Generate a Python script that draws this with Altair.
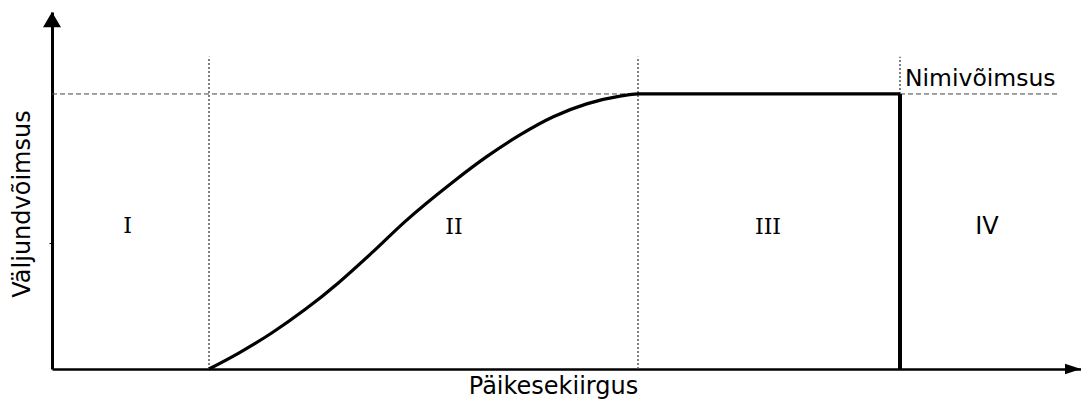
import altair as alt
import pandas as pd

# ---- data ----
curve_x = [157, 186.3, 219.7, 253, 286.3, 319.7, 353, 401.3, 434.7, 468, 501.3, 534.7, 568, 586, 848]
curve_y = [0, 0.057, 0.131, 0.216, 0.313, 0.422, 0.536, 0.681, 0.772, 0.851, 0.917, 0.964, 0.992, 1.0, 1.0]

region_labels = ["I", "II", "III", "IV"]
region_x = [75.5, 402, 716, 935]
region_y = [0.52, 0.515, 0.515, 0.515]

boundary_x = [157, 586]
boundary_top = 1.135
cutout_x = 848
rated = 1.0
rated_end = 1005
rated_label = "Nimivõimsus"
rated_label_x = 853
rated_label_y = 1.029
y_tick = [0.458]

x_max = 1029
y_max = 1.298

xs = alt.Scale(domain=[0, x_max], nice=False, zero=False)
ys = alt.Scale(domain=[0, y_max], nice=False, zero=False)

x_axis = alt.Axis(title="Päikesekiirgus", domainWidth=2.5, domainColor="black",
                  ticks=False, labels=False, grid=False,
                  titleFont="DejaVu Sans", titleFontSize=24, titleFontWeight="normal",
                  titleColor="black", titleX=501, titleY=24,
                  titleBaseline="alphabetic", titleAlign="center")
y_axis = alt.Axis(title="Väljundvõimsus", values=y_tick, domainWidth=3, domainColor="black",
                  tickSize=3, tickColor="black", tickWidth=1, labels=False, grid=False,
                  titleFont="DejaVu Sans", titleFontSize=24, titleFontWeight="normal",
                  titleColor="black", titleX=-30, titleY=191.5, titleAngle=270,
                  titleBaseline="middle", titleAlign="center")

# dotted boundaries
dot_df = pd.DataFrame({
    "x": boundary_x + [cutout_x],
    "y": [0, 0, rated],
    "y2": [boundary_top] * 3,
})
dotted = alt.Chart(dot_df).mark_rule(color="#555555", strokeWidth=1.5, strokeDash=[2, 2]).encode(
    x=alt.X("x:Q", scale=xs, axis=x_axis),
    y=alt.Y("y:Q", scale=ys, axis=y_axis),
    y2="y2:Q",
)

cut_df = pd.DataFrame({"x": [cutout_x], "y": [0], "y2": [rated]})
cutout = alt.Chart(cut_df).mark_rule(color="black", strokeWidth=4).encode(
    x=alt.X("x:Q", scale=xs), y=alt.Y("y:Q", scale=ys), y2="y2:Q"
)

rated_df = pd.DataFrame({"x": [0], "x2": [rated_end], "y": [rated]})
rated_line = alt.Chart(rated_df).mark_rule(color="#444444", strokeWidth=1, strokeDash=[5, 3]).encode(
    x=alt.X("x:Q", scale=xs), x2="x2:Q", y=alt.Y("y:Q", scale=ys)
)

curve_df = pd.DataFrame({"x": curve_x, "y": curve_y})
curve = alt.Chart(curve_df).mark_line(color="black", strokeWidth=3.2, interpolate="monotone").encode(
    x=alt.X("x:Q", scale=xs), y=alt.Y("y:Q", scale=ys)
)

reg_df = pd.DataFrame({"label": region_labels, "x": region_x, "y": region_y})
reg_serif = alt.Chart(reg_df.iloc[:3]).mark_text(font="DejaVu Serif", fontSize=22, color="black",
                                                 baseline="middle", align="center").encode(
    x=alt.X("x:Q", scale=xs), y=alt.Y("y:Q", scale=ys), text="label:N"
)
reg_sans = alt.Chart(reg_df.iloc[3:]).mark_text(font="DejaVu Sans", fontSize=24, color="black",
                                                baseline="middle", align="center").encode(
    x=alt.X("x:Q", scale=xs), y=alt.Y("y:Q", scale=ys), text="label:N"
)

lab_df = pd.DataFrame({"label": [rated_label], "x": [rated_label_x], "y": [rated_label_y]})
rated_text = alt.Chart(lab_df).mark_text(font="DejaVu Sans", fontSize=23.5, color="black",
                                         baseline="alphabetic", align="left").encode(
    x=alt.X("x:Q", scale=xs), y=alt.Y("y:Q", scale=ys), text="label:N"
)

up_df = pd.DataFrame({"x": [0], "y": [1.270]})
up_arrow = alt.Chart(up_df).mark_point(shape="M0,-0.85L1,0.85L-1,0.85Z", filled=True, size=324,
                                       color="black", opacity=1, strokeWidth=0).encode(
    x=alt.X("x:Q", scale=xs), y=alt.Y("y:Q", scale=ys)
)
right_df = pd.DataFrame({"x": [1021], "y": [0]})
right_arrow = alt.Chart(right_df).mark_point(shape="M1,0L-1,-0.65L-1,0.65Z", filled=True, size=256,
                                             color="black", opacity=1, strokeWidth=0).encode(
    x=alt.X("x:Q", scale=xs), y=alt.Y("y:Q", scale=ys)
)

chart = alt.layer(
    dotted, rated_line, cutout, curve, reg_serif, reg_sans, rated_text, up_arrow, right_arrow
).properties(
    width=x_max, height=357, autosize="none",
    padding={"left": 44, "top": 4, "right": 0, "bottom": 30},
    background="white",
).configure_view(stroke=None)

chart.save("out.html", embed_options={"renderer": "svg", "actions": False})
